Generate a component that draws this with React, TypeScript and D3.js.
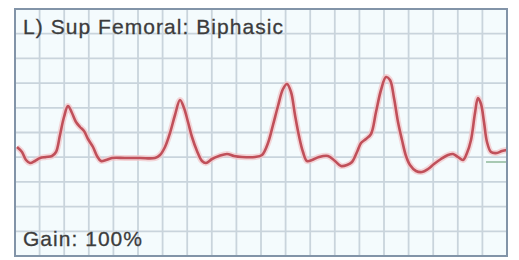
import React from "react";
import * as d3 from "d3";

const title = "L) Sup Femoral: Biphasic";
const gainLabel = "Gain: 100%";

// time (samples) and amplitude (arbitrary units)
const times = [2, 7, 11, 15, 20, 25, 31, 37, 41, 45, 49, 53, 57, 61, 65, 69, 73, 78, 82, 86, 91, 97, 110, 125, 140, 145, 150, 155, 160, 165, 169, 173, 177, 182, 187, 191, 197, 204, 212, 219, 227, 240, 247, 253, 258, 263, 268, 272, 276, 280, 284, 288, 292, 297, 304, 313, 320, 326, 332, 337, 342, 346, 351, 356, 361, 366, 371, 375, 379, 383, 387, 391, 395, 401, 407, 413, 419, 426, 433, 438, 443, 448, 452, 456, 460, 463, 466, 469, 472, 476, 482, 487, 492];
const amplitude = [109, 104, 96, 93, 95, 98, 99, 100, 104, 121, 139, 150, 143, 134, 129, 125, 117, 109, 100, 95, 96, 98, 98, 98, 98, 101, 109, 123, 141, 156, 148, 134, 119, 105, 95, 93, 97, 100, 102, 100, 99, 99, 101, 113, 131, 150, 167, 172, 164, 141, 120, 104, 95, 96, 99, 100, 95, 90, 91, 94, 104, 113, 117, 122, 144, 166, 179, 176, 158, 134, 116, 100, 91, 85, 84, 87, 92, 97, 101, 102, 99, 96, 103, 116, 143, 158, 152, 134, 114, 104, 103, 105, 106];

const baselineMarker = 94;
const xDomain = [0, 492];
const yDomain = [0, 247];
const xDivisions = 20;
const yDivisions = 10;

export default function App() {
  const W = 519, H = 260;
  const left = 15, right = 507, top = 9, bottom = 256;
  const x = d3.scaleLinear().domain(xDomain).range([left, right]);
  const y = d3.scaleLinear().domain(yDomain).range([bottom, top]);
  const pts = times.map((t, i) => [t, amplitude[i]] as [number, number]);
  const line = d3
    .line<[number, number]>()
    .x((d) => x(d[0]))
    .y((d) => y(d[1]))
    .curve(d3.curveCatmullRom.alpha(0.5));
  const path = line(pts) || "";
  const xTicks = d3.range(1, xDivisions).map((i) => xDomain[0] + (i * (xDomain[1] - xDomain[0])) / xDivisions);
  const yTicks = d3.range(1, yDivisions).map((i) => yDomain[0] + (i * (yDomain[1] - yDomain[0])) / yDivisions);
  const font = "'Liberation Sans', Arial, Helvetica, sans-serif";

  return (
    <svg
      width={W}
      height={H}
      style={{ position: "absolute", left: 0, top: 0, display: "block" }}
    >
      <rect x={0} y={0} width={W} height={H} fill="#ffffff" />
      <rect x={left} y={top} width={right - left} height={bottom - top} fill="#f4fbfd" />
      <g stroke="#c9d4dc" strokeWidth={1.8}>
        {xTicks.map((t, i) => (
          <line key={"vx" + i} x1={x(t)} x2={x(t)} y1={top} y2={bottom} />
        ))}
        {yTicks.map((t, i) => (
          <line key={"hy" + i} x1={left} x2={right} y1={y(t)} y2={y(t)} />
        ))}
      </g>
      <line
        x1={x(471)}
        x2={x(492)}
        y1={y(baselineMarker)}
        y2={y(baselineMarker)}
        stroke="#8fb89a"
        strokeWidth={1.5}
      />
      <path d={path} fill="none" stroke="#f2c4c7" strokeWidth={6} strokeOpacity={0.7} strokeLinejoin="round" />
      <path d={path} fill="none" stroke="#c0505a" strokeWidth={2.6} strokeLinejoin="round" />
      <rect
        x={left}
        y={top}
        width={right - left}
        height={bottom - top}
        fill="none"
        stroke="#8294a8"
        strokeWidth={2}
      />
      <text
        x={23}
        y={34}
        fontFamily={font}
        fontSize={21}
        fill="#3c3c3c"
        stroke="#3c3c3c"
        strokeWidth={0.3}
        textLength={260}
        lengthAdjust="spacing"
      >
        {title}
      </text>
      <text
        x={23}
        y={246}
        fontFamily={font}
        fontSize={21}
        fill="#3c3c3c"
        stroke="#3c3c3c"
        strokeWidth={0.3}
        textLength={119}
        lengthAdjust="spacing"
      >
        {gainLabel}
      </text>
    </svg>
  );
}
